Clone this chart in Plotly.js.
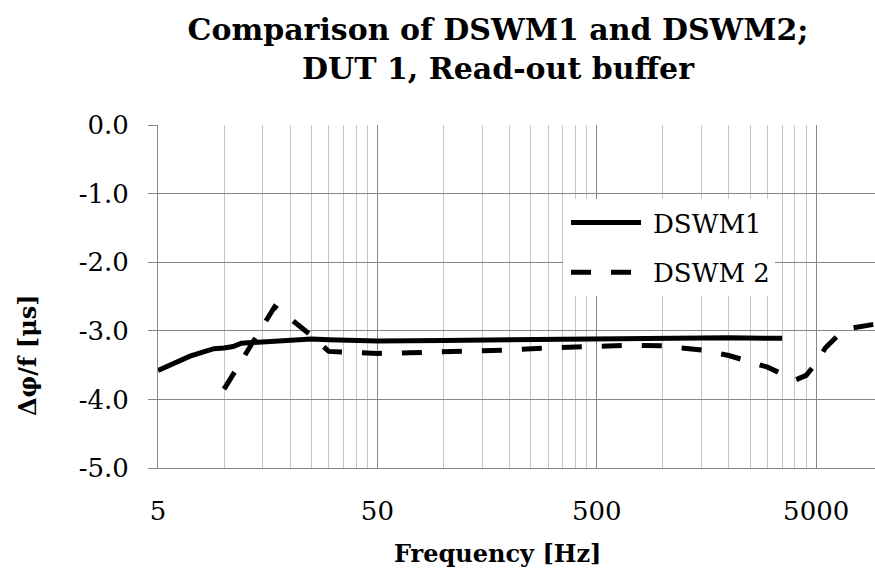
<!DOCTYPE html>
<html>
<head>
<meta charset="utf-8">
<script src="https://cdn.plot.ly/plotly-3.0.1.min.js"></script>
<style>html,body{margin:0;padding:0;background:#fff;}#chart{width:875px;height:577px;}</style>
</head>
<body>
<div id="chart"></div>
<script>
// ---- data ----
const freqDSWM1 = [5, 6, 7, 8, 9, 10, 11, 12, 15, 20, 25, 30, 40, 50, 100, 200, 300, 500, 1000, 2000, 3000, 3500];
const valDSWM1  = [-3.58, -3.47, -3.37, -3.31, -3.26, -3.25, -3.23, -3.18, -3.16, -3.13, -3.12, -3.13, -3.14, -3.15, -3.14, -3.13, -3.12, -3.11, -3.10, -3.10, -3.11, -3.11];

const freqDSWM2 = [10, 17, 20, 25, 30, 40, 50, 70, 100, 150, 200, 300, 500, 700, 1000, 1500, 2000, 2500, 3000, 3500, 4000, 4500, 5000, 5500, 6000, 6500, 7000, 8000, 9000, 10000];
const valDSWM2  = [-3.85, -2.65, -2.82, -3.07, -3.30, -3.32, -3.33, -3.32, -3.31, -3.29, -3.28, -3.25, -3.22, -3.21, -3.22, -3.28, -3.36, -3.45, -3.53, -3.63, -3.72, -3.65, -3.47, -3.25, -3.12, -3.02, -2.97, -2.93, -2.91, -2.89];

const xTickVals = [5, 50, 500, 5000];
const xTickText = ['5', '50', '500', '5000'];
const yTickVals = [0, -1, -2, -3, -4, -5];
const yTickText = ['0.0', '-1.0', '-2.0', '-3.0', '-4.0', '-5.0'];

const seriesNames = ['DSWM1', 'DSWM 2'];
const titleText = 'Comparison of DSWM1 and DSWM2;<br>DUT 1, Read-out buffer';
const xTitle = 'Frequency [Hz]';
const yTitle = 'Δφ/f [μs]';

// minor gridlines at multiples of each major step (Excel style)
const minorVals = [];
xTickVals.forEach(function (m) { for (let k = 2; k <= 9; k++) minorVals.push(m * k); });

const serif = 'DejaVu Serif';
const majorGrid = '#878787';
const minorGrid = '#c6c6c6';

const traces = [
  { x: freqDSWM1, y: valDSWM1, name: seriesNames[0], type: 'scatter', mode: 'lines',
    legendgroup: 'a', line: { color: '#000', width: 5 } },
  { x: freqDSWM2, y: valDSWM2, name: seriesNames[1], type: 'scatter', mode: 'lines',
    legendgroup: 'b', line: { color: '#000', width: 5, dash: '20px,20px' } }
];

const layout = {
  width: 875, height: 577,
  paper_bgcolor: '#fff', plot_bgcolor: '#fff',
  margin: { l: 158, r: 0, t: 125, b: 109, pad: 0 },
  showlegend: true,
  title: { text: titleText, x: 498 / 875, xref: 'container', xanchor: 'center',
           y: 1 - 40 / 577, yref: 'container', yanchor: 'top',
           font: { family: serif, size: 30, weight: 700, color: '#000' } },
  xaxis: {
    type: 'log', range: [Math.log10(5), Math.log10(5) + 717 / 219.4],
    tickmode: 'array', tickvals: xTickVals, ticktext: xTickText,
    showgrid: true, gridcolor: majorGrid, gridwidth: 1,
    showline: true, linecolor: majorGrid, linewidth: 1,
    ticks: '', ticklabelstandoff: 20,
    tickfont: { family: serif, size: 26, color: '#000' },
    minor: { tickmode: 'array', tickvals: minorVals, showgrid: true, gridcolor: minorGrid, gridwidth: 1, ticks: '' },
    zeroline: false, fixedrange: true
  },
  yaxis: {
    range: [-5, 0], tickmode: 'array', tickvals: yTickVals, ticktext: yTickText,
    showgrid: true, gridcolor: majorGrid, gridwidth: 1,
    showline: true, linecolor: majorGrid, linewidth: 1,
    ticks: 'outside', ticklen: 9, tickcolor: majorGrid, tickwidth: 1,
    ticklabelstandoff: 14,
    tickfont: { family: serif, size: 26, color: '#000' },
    zeroline: false, fixedrange: true
  },
  legend: {
    x: (563 - 158) / 717, y: (468 - 199) / 343, xanchor: 'left', yanchor: 'top',
    bgcolor: '#fff', borderwidth: 0, itemwidth: 80, tracegroupgap: 13,
    font: { family: serif, size: 26, color: '#000' }, traceorder: 'grouped'
  },
  annotations: [
    { text: xTitle, xref: 'paper', yref: 'paper', x: (497 - 158) / 717, y: (468 - 553) / 343,
      xanchor: 'center', yanchor: 'middle', showarrow: false,
      font: { family: serif, size: 24, weight: 700, color: '#000' } },
    { text: yTitle, xref: 'paper', yref: 'paper', x: (27 - 158) / 717, y: (468 - 355) / 343,
      xanchor: 'center', yanchor: 'middle', showarrow: false, textangle: -90,
      font: { family: serif, size: 24, weight: 700, color: '#000' } }
  ]
};

Plotly.newPlot('chart', traces, layout, { displayModeBar: false, staticPlot: true }).then(function (gd) {
  gd.querySelectorAll('.legend .legendlines path').forEach(function (p) {
    p.setAttribute('d', 'M8,0h70');
  });
});
</script>
</body>
</html>
